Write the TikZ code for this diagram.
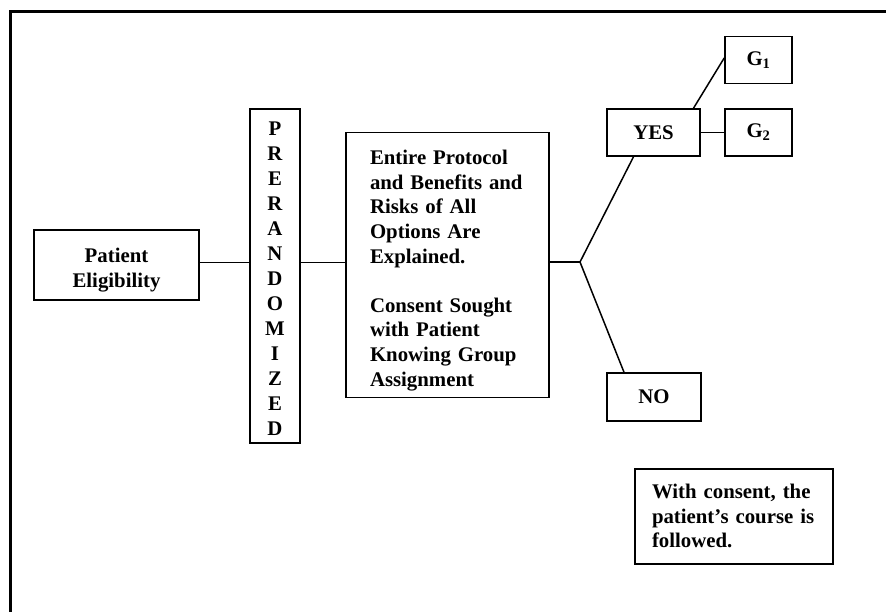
\documentclass[tikz,border=0pt]{standalone}
\usepackage{fontspec}
\setmainfont{Liberation Serif}
\usetikzlibrary{calc}
\begin{document}
\begin{tikzpicture}[x=1pt,y=-1pt,
  every node/.style={font=\bfseries\fontsize{20.8}{24.6}\selectfont},
  box/.style={draw,line width=1.6pt,inner sep=0pt,align=center},
  txt/.style={inner sep=0pt},
  link/.style={line width=1.5pt},
  frame/.style={line width=3pt}]
  \useasboundingbox (0,0) rectangle (886,612);
  % open frame: top and left edges only
  \draw[frame] (10,612) -- (10,12) -- (886,12);

  % boxes (text set in separate nodes, shifted down onto its baselines)
  \node[box,minimum width=165pt,minimum height=70pt] (pe) at (116.5,265) {};
  \node[txt,align=center,font=\bfseries\fontsize{20.8}{25}\selectfont] (pe-t) at ([yshift=-5pt]pe.center) {Patient\\Eligibility};

  \node[box,minimum width=50pt,minimum height=334pt] (pr) at (275,276) {};
  \node[txt,align=center,font=\bfseries\fontsize{20.8}{25}\selectfont] (pr-t) at ([yshift=-3pt]pr.center)
        {P\\R\\E\\R\\A\\N\\D\\O\\M\\I\\Z\\E\\D};

  \node[box,minimum width=203pt,minimum height=265pt] (main) at (447.5,265) {};
  \node[txt,align=left,text width=155pt] (main-t) at ([yshift=-5.5pt]main.center)
        {Entire Protocol\\and Benefits and\\Risks of All\\Options Are\\Explained.\\[24.6pt]Consent Sought\\with Patient\\Knowing Group\\Assignment};

  \node[box,minimum width=93pt,minimum height=47pt] (yes) at (653.5,132.5) {YES};
  \node[box,minimum width=67pt,minimum height=47pt] (g1) at (758.5,60) {G\textsubscript{1}};
  \node[box,minimum width=67pt,minimum height=47pt] (g2) at (758.5,132.5) {G\textsubscript{2}};
  \node[box,minimum width=94pt,minimum height=48pt] (no) at (654,397) {NO};

  \node[box,minimum width=198pt,minimum height=95pt] (note) at (734,516.5) {};
  \node[txt,align=left,text width=164pt] (note-t) at ([yshift=0.5pt]note.center)
        {With consent, the\\patient’s course is\\followed.};

  % connectors
  \coordinate (split) at (580,262);
  \draw[link] (pe.east |- 0,262.7) -- (pr.west |- 0,262.7);
  \draw[link] (pr.east |- 0,262.5) -- (main.west |- 0,262.5);
  \draw[link] (main.east |- split) -- (split);
  \draw[link] (split) -- ([xshift=-20pt]yes.south);
  \draw[link] (split) -- ([xshift=-30pt]no.north);
  \draw[link] ([xshift=40pt]yes.north) -- ([yshift=2pt]g1.west);
  \draw[link] (yes.east) -- (g2.west);
\end{tikzpicture}
\end{document}
